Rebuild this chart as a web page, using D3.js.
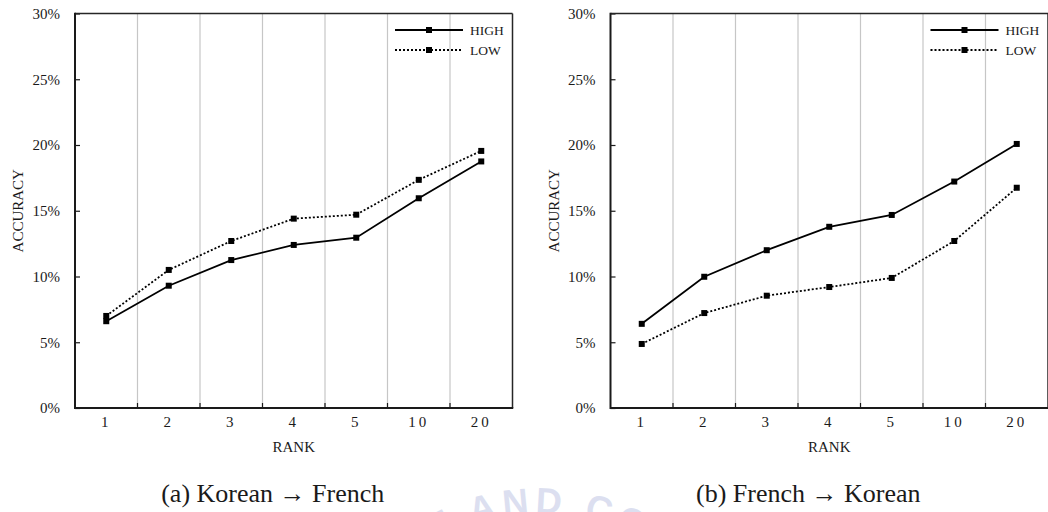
<!DOCTYPE html>
<html>
<head>
<meta charset="utf-8">
<script src="https://cdn.jsdelivr.net/npm/d3@7"></script>
<style>
  html, body { margin: 0; padding: 0; background: #fff; }
  svg { display: block; }
  text { font-family: "Liberation Serif", "Times New Roman", serif; fill: #1a1a1a; }
</style>
</head>
<body>
<svg id="chart" width="1048" height="512"></svg>
<script>
// Top-k accuracy by rank for the two translation directions
const ranks = ["1", "2", "3", "4", "5", "10", "20"];
const seriesNames = ["HIGH", "LOW"];
const yTicks = [0, 0.05, 0.10, 0.15, 0.20, 0.25, 0.30];

// (a) Korean -> French
const koFrHigh = [0.066, 0.093, 0.1125, 0.124, 0.1295, 0.1595, 0.1875];
const koFrLow  = [0.070, 0.105, 0.127, 0.144, 0.147, 0.1735, 0.1955];

// (b) French -> Korean
const frKoHigh = [0.064, 0.0998, 0.120, 0.1378, 0.1468, 0.1722, 0.2008];
const frKoLow  = [0.0487, 0.0722, 0.0854, 0.092, 0.0989, 0.127, 0.1675];

const captions = ["(a) Korean \u2192 French", "(b) French \u2192 Korean"];

const panels = [
  { left: 75,    caption: captions[0], series: [koFrHigh, koFrLow] },
  { left: 610.5, caption: captions[1], series: [frKoHigh, frKoLow] }
];

const svg = d3.select("#chart");
const plotW = 437.5, plotTop = 13.5, plotBottom = 408;
const dashes = [null, "2,2"];

// faint stamp along the bottom edge
const wm = svg.append("g");
wm.append("path").attr("id", "stampArc")
  .attr("d", "M 330 722 A 209 209 0 0 1 748 722")
  .attr("fill", "none");
wm.append("text")
  .style("font-family", "'Liberation Sans', Arial, sans-serif")
  .style("font-weight", "bold")
  .style("font-size", "36px")
  .style("letter-spacing", "6px")
  .style("fill", "#dcdff0")
  .append("textPath")
  .attr("href", "#stampArc")
  .attr("startOffset", "50%")
  .attr("text-anchor", "middle")
  .text("T AND CO");

panels.forEach(p => {
  const g = svg.append("g");
  const x = d3.scaleBand().domain(ranks).range([p.left, p.left + plotW]);
  const y = d3.scaleLinear().domain([0, 0.30]).range([plotBottom, plotTop]);

  // vertical separators between rank bands
  const seps = ranks.slice(1).map(r => x(r));
  g.selectAll(".sep").data(seps).enter().append("line")
    .attr("x1", d => d).attr("x2", d => d)
    .attr("y1", plotTop).attr("y2", plotBottom)
    .attr("stroke", "#c6c6c6").attr("stroke-width", 1.2);
  // short inward ticks on the bottom axis
  g.selectAll(".xt").data(seps).enter().append("line")
    .attr("x1", d => d).attr("x2", d => d)
    .attr("y1", plotBottom - 5).attr("y2", plotBottom)
    .attr("stroke", "#1a1a1a").attr("stroke-width", 1.2);

  // y axis with inward ticks
  const yAxis = d3.axisLeft(y).tickValues(yTicks).tickFormat(d3.format(".0%"))
    .tickSize(-5).tickPadding(15);
  const ya = g.append("g").attr("transform", `translate(${p.left},0)`).call(yAxis);
  ya.select(".domain").remove();
  ya.selectAll("line").attr("stroke", "#1a1a1a").attr("stroke-width", 1.2);
  ya.selectAll("text").style("font-family", "'Liberation Serif', serif")
    .style("font-size", "15px").attr("fill", "#1a1a1a");

  // x axis labels
  const xAxis = d3.axisBottom(x).tickSize(0).tickPadding(8);
  const xa = g.append("g").attr("transform", `translate(0,${plotBottom})`).call(xAxis);
  xa.select(".domain").remove();
  xa.selectAll("text").style("font-family", "'Liberation Serif', serif")
    .style("font-size", "15px").style("letter-spacing", "3px").attr("fill", "#1a1a1a");

  // frame
  g.append("line").attr("x1", p.left).attr("x2", p.left + plotW).attr("y1", plotTop).attr("y2", plotTop)
    .attr("stroke", "#262626").attr("stroke-width", 1.5);
  g.append("line").attr("x1", p.left + plotW).attr("x2", p.left + plotW).attr("y1", plotTop).attr("y2", plotBottom)
    .attr("stroke", "#262626").attr("stroke-width", 1.5);
  g.append("line").attr("x1", p.left).attr("x2", p.left).attr("y1", plotTop - 0.75).attr("y2", plotBottom + 1)
    .attr("stroke", "#1a1a1a").attr("stroke-width", 2);
  g.append("line").attr("x1", p.left).attr("x2", p.left + plotW + 0.75).attr("y1", plotBottom).attr("y2", plotBottom)
    .attr("stroke", "#1a1a1a").attr("stroke-width", 2);

  // series lines and square markers
  const line = d3.line().x((d, i) => x(ranks[i]) + x.bandwidth() / 2).y(d => y(d));
  p.series.forEach((vals, si) => {
    g.append("path").datum(vals).attr("d", line)
      .attr("fill", "none").attr("stroke", "#000").attr("stroke-width", 1.8)
      .attr("stroke-dasharray", dashes[si]);
    g.selectAll(".m" + si).data(vals).enter().append("rect")
      .attr("x", (d, i) => x(ranks[i]) + x.bandwidth() / 2 - 3)
      .attr("y", d => y(d) - 3)
      .attr("width", 6).attr("height", 6).attr("fill", "#000");
  });

  // legend
  const lx = p.left + plotW - 117.5;
  seriesNames.forEach((name, si) => {
    const ly = 30 + si * 20;
    g.append("line").attr("x1", lx).attr("x2", lx + 68).attr("y1", ly).attr("y2", ly)
      .attr("stroke", "#000").attr("stroke-width", 1.8).attr("stroke-dasharray", dashes[si]);
    g.append("rect").attr("x", lx + 34 - 3).attr("y", ly - 3).attr("width", 6).attr("height", 6).attr("fill", "#000");
    g.append("text").attr("x", lx + 75).attr("y", ly + 4.5)
      .style("font-size", "13.5px").text(name);
  });

  // axis titles
  g.append("text").attr("x", p.left + plotW / 2).attr("y", 452)
    .attr("text-anchor", "middle").style("font-size", "15px").text("RANK");
  g.append("text")
    .attr("transform", `translate(${p.left - 52},${(plotTop + plotBottom) / 2}) rotate(-90)`)
    .attr("text-anchor", "middle").style("font-size", "15px").text("ACCURACY");

  // caption
  g.append("text").attr("x", p.left + plotW / 2 - 21).attr("y", 502)
    .attr("text-anchor", "middle").style("font-size", "26px").attr("fill", "#000").text(p.caption);
});
</script>
</body>
</html>
